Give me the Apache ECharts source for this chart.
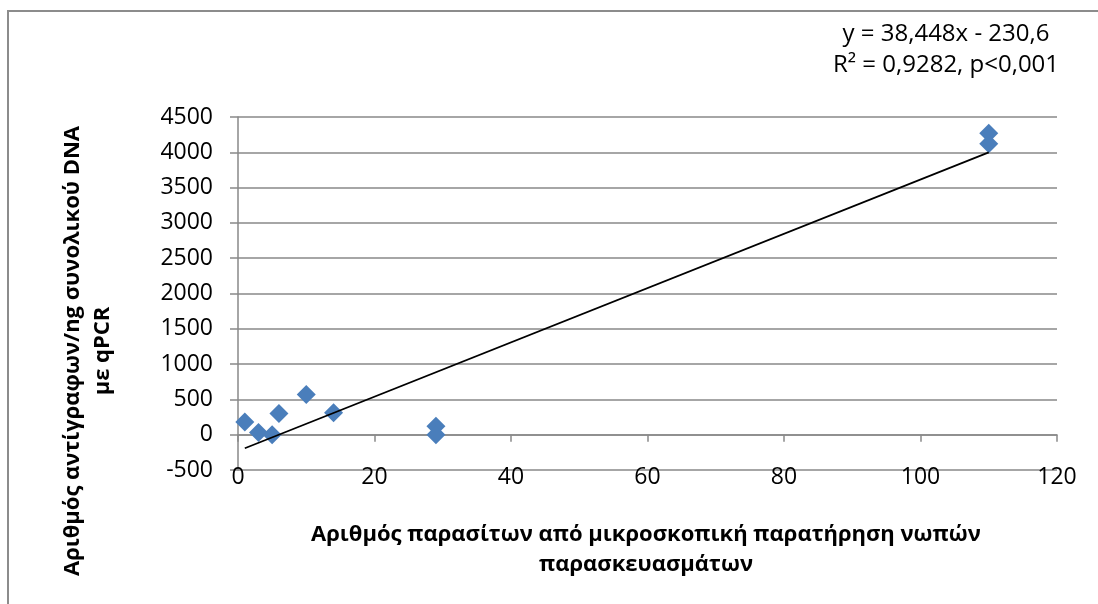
<!DOCTYPE html>
<html>
<head>
<meta charset="utf-8">
<script src="https://cdn.jsdelivr.net/npm/echarts@6/dist/echarts.min.js"></script>
<style>
  html, body { margin: 0; padding: 0; background: #fff; }
  #chart { width: 1098px; height: 604px; }
</style>
</head>
<body>
<div id="chart"></div>
<script>
// Parasite counts (microscopy) vs. copies/ng total DNA (qPCR)
const parasiteCounts = [1, 3, 5, 6, 10, 14, 29, 29, 110, 110];
const copiesPerNg = [180, 30, 0, 300, 570, 310, 120, 0, 4270, 4120];

// Axis ticks
const xTickValues = [0, 20, 40, 60, 80, 100, 120];
const yTickValues = [-500, 0, 500, 1000, 1500, 2000, 2500, 3000, 3500, 4000, 4500];

// Linear fit reported on the chart
const slope = 38.448;
const intercept = -230.6;
const rSquared = 0.9282;
const pLabel = 'p<0,001';

const xTitle = 'Αριθμός παρασίτων από μικροσκοπική παρατήρηση νωπών\nπαρασκευασμάτων';
const yTitle = 'Αριθμός αντίγραφων/ng συνολικού DNA\nμε qPCR';

const fmt = v => String(v).replace('.', ',');
const eqText = 'y = ' + fmt(slope) + 'x ' + (intercept < 0 ? '- ' : '+ ') + fmt(Math.abs(intercept)) +
  '\nR² = ' + fmt(rSquared) + ', ' + pLabel;

const xMinData = Math.min(...parasiteCounts);
const xMaxData = Math.max(...parasiteCounts);
const fitLine = [xMinData, xMaxData].map(x => [x, slope * x + intercept]);

const FONT = '"Open Sans", "Noto Sans", sans-serif';
const GRAY = '#898989';
const plain = v => String(v);

const chart = echarts.init(document.getElementById('chart'), null, { renderer: 'canvas' });
chart.setOption({
  animation: false,
  backgroundColor: '#fff',
  grid: { left: 238, right: 41, top: 117, bottom: 134, containLabel: false },
  xAxis: [
    {
      type: 'value',
      position: 'bottom',
      min: xTickValues[0],
      max: xTickValues[xTickValues.length - 1],
      interval: xTickValues[1] - xTickValues[0],
      axisLine: { show: false, onZero: false },
      axisTick: { show: false },
      splitLine: { show: false },
      axisLabel: { color: '#000', fontSize: 23, fontFamily: FONT, margin: -4, formatter: plain }
    },
    {
      type: 'value',
      position: 'bottom',
      min: xTickValues[0],
      max: xTickValues[xTickValues.length - 1],
      interval: xTickValues[1] - xTickValues[0],
      axisLine: { show: true, onZero: true, lineStyle: { color: GRAY, width: 1.5 } },
      axisTick: { show: true, length: 7, lineStyle: { color: GRAY, width: 1.5 } },
      splitLine: { show: false },
      axisLabel: { show: false }
    }
  ],
  yAxis: {
    type: 'value',
    min: yTickValues[0],
    max: yTickValues[yTickValues.length - 1],
    interval: yTickValues[1] - yTickValues[0],
    axisLine: { show: true, onZero: false, lineStyle: { color: GRAY, width: 1.5 } },
    axisTick: { show: true, length: 8, lineStyle: { color: GRAY, width: 1.5 } },
    splitLine: { show: true, lineStyle: { color: GRAY, width: 1.5 } },
    axisLabel: { color: '#000', fontSize: 23, fontFamily: FONT, margin: 25, formatter: plain }
  },
  series: [
    {
      type: 'scatter',
      xAxisIndex: 0,
      data: parasiteCounts.map((x, i) => [x, copiesPerNg[i]]),
      symbol: 'diamond',
      symbolSize: 19,
      itemStyle: { color: '#4A7EBB', opacity: 1 },
      z: 2
    },
    {
      type: 'line',
      xAxisIndex: 0,
      data: fitLine,
      showSymbol: false,
      symbol: 'none',
      lineStyle: { color: '#000', width: 1.8 },
      z: 3
    }
  ],
  graphic: [
    {
      type: 'rect',
      shape: { x: 8, y: 11, width: 1200, height: 700 },
      style: { fill: 'none', stroke: '#8c8c8c', lineWidth: 2 },
      silent: true
    },
    {
      type: 'text',
      x: 946, y: 50,
      style: {
        text: eqText, fill: '#000', font: '24px ' + FONT,
        align: 'center', verticalAlign: 'middle', lineHeight: 31
      }
    },
    {
      type: 'text',
      x: 646, y: 550,
      style: {
        text: xTitle, fill: '#000', font: 'bold 22px ' + FONT,
        align: 'center', verticalAlign: 'middle', lineHeight: 30
      }
    },
    {
      type: 'text',
      x: 88, y: 351,
      rotation: Math.PI / 2,
      style: {
        text: yTitle, fill: '#000', font: 'bold 22px ' + FONT,
        align: 'center', verticalAlign: 'middle', lineHeight: 30
      }
    }
  ]
});
</script>
</body>
</html>
